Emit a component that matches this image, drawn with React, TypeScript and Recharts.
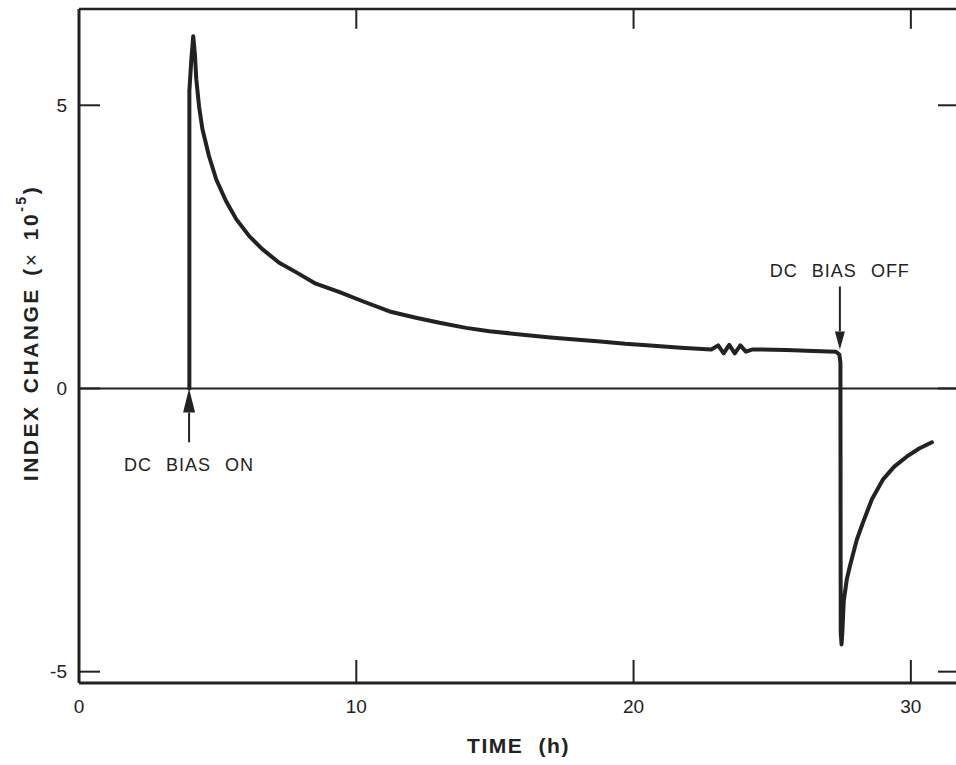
import { LineChart, Line, XAxis, YAxis, ReferenceLine } from "recharts";

// hours after start
const time = [
  3.98, 3.98, 4.05, 4.12, 4.18, 4.23, 4.33, 4.45, 4.69, 4.95, 5.3, 5.67, 6.14, 6.61, 7.22,
  7.84, 8.54, 9.4, 10.23, 11.2, 12.15, 13.0, 13.96, 14.8, 16.0, 17.0, 18.0, 18.8, 19.7,
  20.6, 21.7, 22.8, 23.05, 23.25, 23.45, 23.65, 23.85, 24.05, 24.3, 25.5, 26.5, 27.3,
  27.42, 27.46, 27.47, 27.5, 27.53, 27.58, 27.69, 27.8, 28.05, 28.27, 28.6, 28.99,
  29.4, 29.86, 30.3, 30.76,
];
// index change, x 1e-5
const indexChange = [
  0, 5.25, 5.8, 6.22, 5.9, 5.46, 4.98, 4.58, 4.1, 3.69, 3.31, 2.99, 2.69, 2.46, 2.22,
  2.05, 1.85, 1.7, 1.54, 1.36, 1.25, 1.16, 1.07, 1.01, 0.95, 0.9, 0.86, 0.83, 0.79,
  0.76, 0.72, 0.69, 0.76, 0.62, 0.77, 0.62, 0.76, 0.65, 0.69, 0.68, 0.66, 0.65,
  0.6, 0.45, -4.3, -4.52, -4.3, -3.75, -3.37, -3.14, -2.67, -2.37, -1.95, -1.61,
  -1.38, -1.2, -1.06, -0.95,
];

const xTicks = [0, 10, 20, 30];
const yTicks = [-5, 0, 5];
const xDomain = [0, 31.7];
const yDomain = [-5.2, 6.7];
const topTickLen = 0.35; // in y units

// arrows: tail -> tip, in data units
const biasOn = { label: "DC BIAS ON", x: 3.97, from: -0.95, to: 0 };
const biasOff = { label: "DC BIAS OFF", x: 27.44, from: 1.8, to: 0.69 };

const data = time.map((t, i) => ({ t, v: indexChange[i] }));

const INK = "#222";
const FONT = '"Liberation Sans", Arial, Helvetica, sans-serif';

const makeArrow = (label: string, textDy: number, headLen: number, headHalf: number) =>
  (p: any) => {
    const { x1, y1, x2, y2 } = p;
    const dir = y2 > y1 ? 1 : -1;
    const baseY = y2 - dir * headLen;
    return (
      <g>
        <line x1={x1} y1={y1} x2={x2} y2={baseY} stroke={INK} strokeWidth={2} />
        <polygon
          points={`${x2},${y2} ${x2 - headHalf},${baseY} ${x2 + headHalf},${baseY}`}
          fill={INK}
        />
        <text
          x={x1}
          y={y1 + textDy}
          textAnchor="middle"
          fontFamily={FONT}
          fontSize={18}
          fill={INK}
          style={{ letterSpacing: 1, wordSpacing: 8 }}
        >
          {label}
        </text>
      </g>
    );
  };

const YTitle = (props: any) => {
  const vb = props.viewBox || {};
  const cy = (vb.y ?? 0) + (vb.height ?? 0) / 2 - 13;
  return (
    <text
      x={30}
      y={cy}
      transform={`rotate(-90, 30, ${cy})`}
      textAnchor="middle"
      dominantBaseline="central"
      fontFamily={FONT}
      fontSize={21}
      fontWeight="bold"
      fill={INK}
      style={{ letterSpacing: 2.5, wordSpacing: 3 }}
    >
      INDEX CHANGE (
      <tspan fontWeight="normal">×</tspan> 10
      <tspan fontSize={14} dy={-9}>-5</tspan>
      <tspan dy={9}>)</tspan>
    </text>
  );
};

const XTitle = (props: any) => {
  const vb = props.viewBox || {};
  return (
    <text
      x={(vb.x ?? 0) + (vb.width ?? 0) / 2}
      y={(vb.y ?? 0) + 70}
      textAnchor="middle"
      fontFamily={FONT}
      fontSize={21}
      fontWeight="bold"
      fill={INK}
      style={{ letterSpacing: 1.5, wordSpacing: 8 }}
    >
      TIME (h)
    </text>
  );
};

const NoLabel = () => <g />;

const tickStyle = { fontSize: 19, fill: INK, fontFamily: FONT };

export default function App() {
  return (
    <div
      style={{
        position: "absolute",
        left: 0,
        top: 0,
        width: 956,
        height: 765,
        overflow: "hidden",
        background: "#fff",
      }}
    >
      <LineChart
        width={959}
        height={765}
        data={data}
        margin={{ top: 8, right: 0, bottom: 0, left: 0 }}
      >
        <XAxis
          dataKey="t"
          type="number"
          domain={xDomain}
          ticks={xTicks}
          interval={0}
          height={82}
          tickSize={-23}
          tickMargin={40}
          tick={tickStyle}
          axisLine={{ stroke: INK, strokeWidth: 3 }}
          tickLine={{ stroke: INK, strokeWidth: 2 }}
          label={<XTitle />}
        />
        <XAxis
          xAxisId="top"
          orientation="top"
          type="number"
          domain={xDomain}
          allowDataOverflow
          height={1}
          tick={false}
          tickLine={false}
          axisLine={{ stroke: INK, strokeWidth: 2.5 }}
        />
        <YAxis
          type="number"
          domain={yDomain}
          ticks={yTicks}
          interval={0}
          width={79}
          tickSize={-21}
          tickMargin={33}
          tick={tickStyle}
          axisLine={{ stroke: INK, strokeWidth: 3 }}
          tickLine={{ stroke: INK, strokeWidth: 2 }}
          label={<YTitle />}
        />
        <YAxis
          yAxisId="right"
          orientation="right"
          type="number"
          domain={yDomain}
          allowDataOverflow
          ticks={yTicks}
          interval={0}
          width={1}
          tickSize={-20}
          tick={<NoLabel />}
          axisLine={{ stroke: INK, strokeWidth: 2.5 }}
          tickLine={{ stroke: INK, strokeWidth: 2 }}
        />
        {xTicks
          .filter((t) => t > xDomain[0])
          .map((t) => (
            <ReferenceLine
              key={`top-${t}`}
              segment={[
                { x: t, y: yDomain[1] },
                { x: t, y: yDomain[1] - topTickLen },
              ]}
              stroke={INK}
              strokeWidth={2}
            />
          ))}
        <ReferenceLine y={0} stroke={INK} strokeWidth={2} />
        <Line
          type="linear"
          dataKey="v"
          stroke={INK}
          strokeWidth={4}
          strokeLinejoin="round"
          strokeLinecap="round"
          dot={false}
          isAnimationActive={false}
        />
        <ReferenceLine
          segment={[
            { x: biasOn.x, y: biasOn.from },
            { x: biasOn.x, y: biasOn.to },
          ]}
          shape={makeArrow(biasOn.label, 29, 24, 6)}
        />
        <ReferenceLine
          segment={[
            { x: biasOff.x, y: biasOff.from },
            { x: biasOff.x, y: biasOff.to },
          ]}
          shape={makeArrow(biasOff.label, -10, 18, 5)}
        />
      </LineChart>
    </div>
  );
}
